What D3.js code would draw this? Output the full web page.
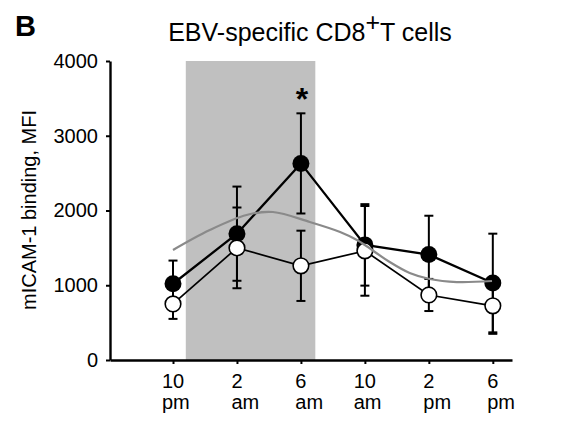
<!DOCTYPE html>
<html>
<head>
<meta charset="utf-8">
<script src="https://cdn.jsdelivr.net/npm/d3@7"></script>
<style>
  body { margin: 0; background: #fff; }
  text { font-family: "Liberation Sans", Arial, sans-serif; fill: #000; }
</style>
</head>
<body>
<svg id="chart" width="585" height="435"></svg>
<script>
// sampling times, hours after 10 pm
const hours = [0, 4, 8, 12, 16, 20];
const tickTop = ["10", "2", "6", "10", "2", "6"];
const tickBottom = ["pm", "am", "am", "am", "pm", "pm"];

// filled circles
const filledMean = [1020, 1690, 2630, 1540, 1410, 1030];
const filledSem = [310, 630, 670, 545, 520, 660];
// open circles
const openMean = [750, 1500, 1260, 1460, 870, 725];
const openSem = [200, 540, 470, 600, 215, 375];

// grey fitted curve
const fitHours = [0, 2.3, 4.6, 6.25, 8.55, 10.45, 11.5, 12, 13.55, 14.8, 16.05, 17.75, 19.95];
const fitValues = [1472, 1739, 1940, 1980, 1846, 1712, 1605, 1538, 1311, 1164, 1084, 1043, 1057];

const darkPhase = [0.8, 8.9];
const yTicks = [0, 1000, 2000, 3000, 4000];
const starIndex = 2;

const svg = d3.select("#chart");

const x = d3.scaleLinear().domain([-3.94, 21.2]).range([110, 512]);
const y = d3.scaleLinear().domain([0, 4000]).range([360, 61]);

//------------------------------shaded night-------------------------------------
svg.append("rect")
  .attr("x", x(darkPhase[0]))
  .attr("y", y(4000))
  .attr("width", x(darkPhase[1]) - x(darkPhase[0]))
  .attr("height", y(0) - y(4000))
  .attr("fill", "#c0c0c0");

//------------------------------axes-------------------------------------
const yAxis = svg.append("g")
  .attr("transform", `translate(${x.range()[0]},0)`)
  .call(d3.axisLeft(y).tickValues(yTicks).tickFormat(d3.format("d"))
    .tickSize(4).tickSizeOuter(0).tickPadding(8));

yAxis.selectAll("text").style("font-size", "20px").attr("font-family", null);

const xAxis = svg.append("g")
  .attr("transform", `translate(0,${y(0)})`)
  .call(d3.axisBottom(x).tickValues(hours).tickSize(4).tickSizeOuter(0).tickFormat(""));

svg.selectAll(".domain").attr("stroke-width", 2.4);
svg.selectAll(".tick line").attr("stroke-width", 2);

// two-line time labels: number centred on the tick, am/pm aligned to its left edge
hours.forEach((h, i) => {
  const top = svg.append("text")
    .attr("x", x(h))
    .attr("y", 388)
    .attr("text-anchor", "middle")
    .style("font-size", "20px")
    .text(tickTop[i]);
  const left = top.node().getBBox().x;
  svg.append("text")
    .attr("x", left)
    .attr("y", 409)
    .style("font-size", "20px")
    .text(tickBottom[i]);
});

//------------------------------labels-------------------------------------
svg.append("text")
  .attr("transform", "translate(36,210) rotate(-90)")
  .attr("text-anchor", "middle")
  .style("font-size", "20px")
  .text("mICAM-1 binding, MFI");

svg.append("text")
  .attr("x", 15)
  .attr("y", 36)
  .style("font-size", "29px")
  .style("font-weight", "bold")
  .text("B");

const title = svg.append("text")
  .attr("x", 310)
  .attr("y", 41)
  .attr("text-anchor", "middle")
  .style("font-size", "25px");
title.append("tspan").text("EBV-specific CD8");
title.append("tspan").attr("dy", -10).text("+");
title.append("tspan").attr("dy", 10).text("T cells");

//------------------------------error bars-------------------------------------
function errorBars(means, sems) {
  const g = svg.append("g").attr("stroke", "#000").attr("stroke-width", 2);
  means.forEach((m, i) => {
    const cx = x(hours[i]);
    g.append("line")
      .attr("x1", cx).attr("x2", cx)
      .attr("y1", y(m - sems[i])).attr("y2", y(m + sems[i]));
    [m - sems[i], m + sems[i]].forEach(v => {
      g.append("line")
        .attr("x1", cx - 4.5).attr("x2", cx + 4.5)
        .attr("y1", y(v)).attr("y2", y(v));
    });
  });
}
errorBars(filledMean, filledSem);
errorBars(openMean, openSem);

//------------------------------series lines-------------------------------------
const line = d3.line().x((d, i) => x(hours[i])).y(d => y(d));

svg.append("path")
  .datum(openMean)
  .attr("d", line)
  .attr("fill", "none")
  .attr("stroke", "#000")
  .attr("stroke-width", 1.7);

svg.append("path")
  .datum(filledMean)
  .attr("d", line)
  .attr("fill", "none")
  .attr("stroke", "#000")
  .attr("stroke-width", 2.3);

svg.selectAll(".filled")
  .data(filledMean)
  .join("circle")
  .attr("class", "filled")
  .attr("cx", (d, i) => x(hours[i]))
  .attr("cy", d => y(d))
  .attr("r", 8.5)
  .attr("fill", "#000");

svg.selectAll(".open")
  .data(openMean)
  .join("circle")
  .attr("class", "open")
  .attr("cx", (d, i) => x(hours[i]))
  .attr("cy", d => y(d))
  .attr("r", 7.8)
  .attr("fill", "#fff")
  .attr("stroke", "#000")
  .attr("stroke-width", 1.6);

//------------------------------fitted curve-------------------------------------
svg.append("path")
  .datum(fitValues)
  .attr("d", d3.line().x((d, i) => x(fitHours[i])).y(d => y(d)).curve(d3.curveCatmullRom))
  .attr("fill", "none")
  .attr("stroke", "#8a8a8a")
  .attr("stroke-width", 2.2);

// significance mark
svg.append("text")
  .attr("x", x(hours[starIndex]) + 1)
  .attr("y", 110)
  .attr("text-anchor", "middle")
  .style("font-size", "32px")
  .style("font-weight", "bold")
  .text("*");
</script>
</body>
</html>
